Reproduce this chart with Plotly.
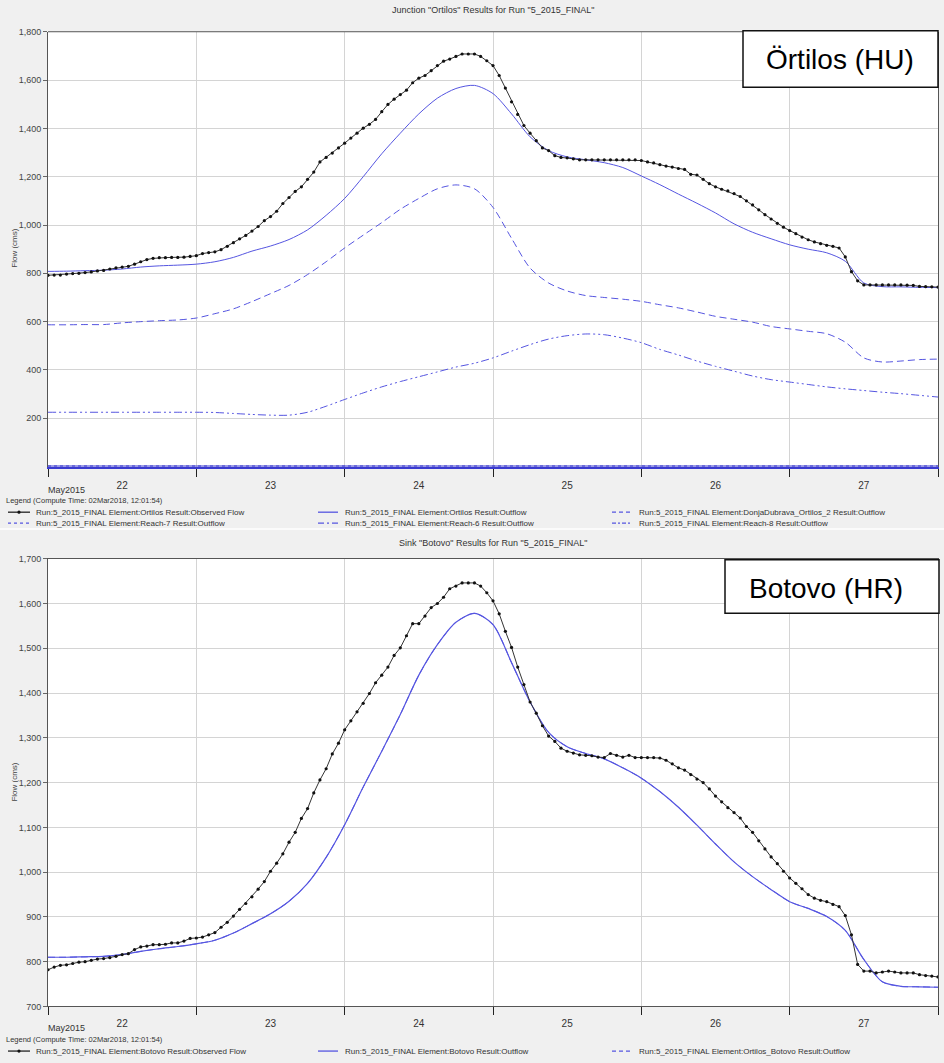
import pandas as pd
import plotly.graph_objects as go

# ---------------- DATA ----------------
# Top panel: Junction "Ortilos" (hourly observed, 3-hourly computed), starting 2015-05-22 00:00
ortilos_observed = [
    792, 793, 793, 797, 799, 800, 803, 806, 810, 812, 818, 823, 826, 829, 838, 848, 857, 862, 865, 865, 866, 866, 867, 870,
    873, 882, 886, 889, 898, 912, 927, 943, 957, 975, 994, 1018, 1035, 1057, 1089, 1114, 1139, 1158, 1189, 1219, 1261, 1280, 1298, 1319,
    1339, 1360, 1380, 1401, 1417, 1437, 1469, 1499, 1521, 1540, 1558, 1589, 1608, 1619, 1639, 1660, 1678, 1687, 1698, 1708, 1708, 1708, 1698, 1680,
    1660, 1619, 1567, 1510, 1458, 1412, 1380, 1349, 1319, 1308, 1287, 1280, 1278, 1274, 1270, 1270, 1270, 1270, 1270, 1270, 1270, 1270, 1270, 1270,
    1267, 1261, 1257, 1250, 1244, 1240, 1234, 1230, 1210, 1207, 1189, 1171, 1158, 1148, 1141, 1130, 1118, 1100, 1083, 1063, 1043, 1025, 1007, 991,
    977, 964, 950, 939, 930, 923, 916, 912, 905, 868, 807, 769, 752, 752, 752, 752, 752, 752, 752, 751, 750, 746, 745, 744,
    743,
]
ortilos_outflow = [
    808, 809, 811, 813, 818, 826, 831, 834, 838, 848, 866, 892, 913, 940, 980, 1040, 1110, 1200, 1295, 1380, 1460, 1525, 1565, 1578,
    1544, 1460, 1365, 1308, 1282, 1270, 1258, 1238, 1203, 1167, 1128, 1090, 1050, 1005, 970, 943, 918, 900, 885, 850, 760, 745, 744, 742, 741,
]
donjadubrava_outflow = [
    587, 587, 588, 588, 595, 600, 604, 607, 615, 633, 653, 683, 716, 750, 795, 848, 905, 958, 1010, 1065, 1110, 1150, 1166, 1150,
    1073, 945, 822, 760, 727, 708, 700, 693, 684, 670, 657, 640, 622, 610, 598, 580, 570, 560, 550, 515, 450, 433, 437, 443, 445,
]
reach6_outflow = [
    225, 225, 225, 225, 225, 225, 225, 225, 225, 224, 220, 216, 213, 213, 225, 250, 278, 305, 330, 352, 372, 392, 412, 428,
    450, 478, 505, 528, 542, 549, 546, 532, 513, 485, 462, 437, 415, 395, 375, 360, 350, 340, 330, 322, 315, 308, 302, 295, 288,
]
reach7_outflow = [0, 0, 0, 0, 0, 0, 0]   # daily, all zero
reach8_outflow = [0, 0, 0, 0, 0, 0, 0]   # daily, all zero

# Bottom panel: Sink "Botovo"
botovo_observed = [
    782, 788, 792, 793, 796, 799, 800, 803, 806, 807, 809, 812, 816, 818, 827, 833, 835, 838, 838, 839, 842, 842, 846, 852,
    853, 855, 860, 865, 877, 888, 902, 917, 930, 945, 962, 979,
    1002, 1020, 1041, 1067, 1089, 1120, 1142, 1177, 1206, 1231, 1264, 1288, 1318, 1338, 1358, 1377, 1399, 1423, 1440, 1458,
    1484, 1501, 1528, 1555, 1555, 1572, 1591, 1600, 1614, 1633, 1639, 1646, 1646, 1646,
    1639, 1624, 1606, 1577, 1538, 1502, 1458, 1419, 1380, 1355, 1327, 1304, 1292, 1277, 1270, 1266, 1262, 1261, 1260, 1257,
    1256, 1265, 1261, 1257, 1261, 1256, 1256, 1256, 1256, 1255, 1250, 1242, 1233, 1228, 1218, 1208, 1200, 1186, 1170, 1157,
    1144, 1133, 1121, 1102, 1089, 1070, 1052, 1034, 1019, 1002, 987, 975, 963, 950, 942, 937, 934, 928, 923, 903,
    860, 794, 779, 779, 775, 777, 779, 777, 775, 775, 775, 771, 769, 768, 766,
]
botovo_outflow = [
    810, 810, 811, 812, 816, 823, 829, 834, 840, 848, 864, 885, 907, 935, 975, 1033, 1106, 1190, 1270, 1352, 1440, 1508, 1558, 1578,
    1553, 1468, 1380, 1312, 1280, 1265, 1253, 1233, 1210, 1180, 1145, 1105, 1063, 1023, 990, 961, 934, 919, 901, 870, 805, 755, 745, 744, 743,
]
ortilos_botovo_outflow = botovo_outflow  # reach outflow = sink inflow (overlaps)

top_ticks = [200, 400, 600, 800, 1000, 1200, 1400, 1600, 1800]
bottom_ticks = [700, 800, 900, 1000, 1100, 1200, 1300, 1400, 1500, 1600, 1700]

top_title = 'Junction "Ortilos" Results for Run "5_2015_FINAL"'
bottom_title = 'Sink "Botovo" Results for Run "5_2015_FINAL"'
legend_header = "Legend (Compute Time: 02Mar2018, 12:01:54)"
top_legend = [
    "Run:5_2015_FINAL Element:Ortilos Result:Observed Flow",
    "Run:5_2015_FINAL Element:Ortilos Result:Outflow",
    "Run:5_2015_FINAL Element:DonjaDubrava_Ortilos_2 Result:Outflow",
    "Run:5_2015_FINAL Element:Reach-7 Result:Outflow",
    "Run:5_2015_FINAL Element:Reach-6 Result:Outflow",
    "Run:5_2015_FINAL Element:Reach-8 Result:Outflow",
]
bottom_legend = [
    "Run:5_2015_FINAL Element:Botovo Result:Observed Flow",
    "Run:5_2015_FINAL Element:Botovo Result:Outflow",
    "Run:5_2015_FINAL Element:Ortilos_Botovo Result:Outflow",
]

# ---------------- FIGURE ----------------
W, H = 944, 1063
START = "2015-05-22 00:00"
END = "2015-05-28 00:00"


def hourly(vals):
    return pd.date_range(START, periods=len(vals), freq="h")


def three_hourly(vals):
    return pd.date_range(START, periods=len(vals), freq="3h")


def daily(vals):
    return pd.date_range(START, periods=len(vals), freq="D")


def px(x):
    return x / W


def py(y):
    return 1 - y / H


BLUE = "#5555e0"
BLUE_D = "#3a3ad0"
FONT = "Liberation Sans"
NARROW = "Liberation Sans Narrow, Liberation Sans, Arial"

fig = go.Figure()

# top panel traces
fig.add_trace(go.Scatter(x=daily(reach7_outflow), y=reach7_outflow, mode="lines",
                         line=dict(color=BLUE_D, width=2, dash="dot"), xaxis="x", yaxis="y"))
fig.add_trace(go.Scatter(x=daily(reach8_outflow), y=reach8_outflow, mode="lines",
                         line=dict(color=BLUE_D, width=2), xaxis="x", yaxis="y"))
fig.add_trace(go.Scatter(x=three_hourly(reach6_outflow), y=reach6_outflow, mode="lines",
                         line=dict(color=BLUE, width=1, dash="8px,3px,2px,3px,2px,3px", shape="spline", smoothing=0.8),
                         xaxis="x", yaxis="y"))
fig.add_trace(go.Scatter(x=three_hourly(donjadubrava_outflow), y=donjadubrava_outflow, mode="lines",
                         line=dict(color=BLUE, width=1, dash="7px,4px", shape="spline", smoothing=0.8),
                         xaxis="x", yaxis="y"))
fig.add_trace(go.Scatter(x=three_hourly(ortilos_outflow), y=ortilos_outflow, mode="lines",
                         line=dict(color=BLUE, width=1, shape="spline", smoothing=0.8), xaxis="x", yaxis="y"))
fig.add_trace(go.Scatter(x=hourly(ortilos_observed), y=ortilos_observed, mode="lines+markers",
                         line=dict(color="#333333", width=1), marker=dict(color="#111111", size=3.2),
                         xaxis="x", yaxis="y"))

# bottom panel traces
fig.add_trace(go.Scatter(x=three_hourly(ortilos_botovo_outflow), y=ortilos_botovo_outflow, mode="lines",
                         line=dict(color=BLUE, width=1, dash="7px,4px", shape="spline", smoothing=0.8),
                         xaxis="x2", yaxis="y2"))
fig.add_trace(go.Scatter(x=three_hourly(botovo_outflow), y=botovo_outflow, mode="lines",
                         line=dict(color=BLUE, width=1.2, shape="spline", smoothing=0.8), xaxis="x2", yaxis="y2"))
fig.add_trace(go.Scatter(x=hourly(botovo_observed), y=botovo_observed, mode="lines+markers",
                         line=dict(color="#333333", width=1), marker=dict(color="#111111", size=3.2),
                         xaxis="x2", yaxis="y2"))

xcommon = dict(type="date", range=[START, END], tick0=START, dtick=86400000, tickformat="%d",
               ticklabelmode="period", ticks="outside", ticklen=8, tickcolor="#222", tickwidth=1,
               showgrid=True, gridcolor="#d4d4d4", gridwidth=1, showline=True,
               tickfont=dict(family=NARROW, size=10, color="#333"),
               zeroline=False, fixedrange=True)
ycommon = dict(showgrid=True, gridcolor="#d4d4d4", gridwidth=1, showline=True, linecolor="#555",
               linewidth=1, mirror=True, ticks="outside", ticklen=4, tickcolor="#666",
               tickformat=",d", tickfont=dict(family=FONT, size=9, color="#444"), zeroline=False,
               fixedrange=True)

fig.update_layout(
    width=W, height=H, autosize=False,
    margin=dict(l=0, r=0, t=0, b=0),
    paper_bgcolor="#f0f0f0", plot_bgcolor="#ffffff",
    showlegend=False,
    xaxis=dict(domain=[px(48), px(938)], anchor="y", linecolor=BLUE_D, linewidth=2, mirror=False, **xcommon),
    yaxis=dict(domain=[py(466), py(27)], anchor="x", range=[0, 1800], tickmode="array",
               tickvals=top_ticks, **ycommon),
    xaxis2=dict(domain=[px(48), px(938)], anchor="y2", linecolor="#555", linewidth=1, mirror=True, **xcommon),
    yaxis2=dict(domain=[py(1011), py(559)], anchor="x2", range=[700, 1700], tickmode="array",
                tickvals=bottom_ticks, **ycommon),
)

ann = []
shapes = []

# top border of the upper plot (x axis line there is the blue zero series)
shapes.append(dict(type="line", xref="paper", yref="paper", x0=px(48), x1=px(938), y0=py(27), y1=py(27),
                   line=dict(color="#555", width=1)))

# panel separator
shapes.append(dict(type="line", xref="paper", yref="paper", x0=0, x1=1, y0=py(529), y1=py(529),
                   line=dict(color="#fbfbfb", width=2)))

# titles
for text, y in [(top_title, 5), (bottom_title, 543)]:
    ann.append(dict(text=text, xref="paper", yref="paper", x=px(493), y=py(y), xanchor="center",
                    yanchor="middle", showarrow=False, font=dict(family=FONT, size=9, color="#333")))

# y-axis titles
for y in [246, 785]:
    ann.append(dict(text="Flow (cms)", xref="paper", yref="paper", x=px(15), y=py(y), xanchor="center",
                    yanchor="middle", textangle=-90, showarrow=False,
                    font=dict(family=FONT, size=8, color="#444")))

# May2015 labels
for y in [490, 1033]:
    ann.append(dict(text="May2015", xref="paper", yref="paper", x=px(46), y=py(y), xanchor="left",
                    yanchor="middle", showarrow=False, font=dict(family=NARROW, size=9, color="#333")))

# Station boxes
boxes = [("Örtilos (HU)", 743, 938, 26, 83), ("Botovo (HR)", 725, 939, 560, 614)]
for text, x0, x1, y0, y1 in boxes:
    shapes.append(dict(type="rect", xref="paper", yref="paper", x0=px(x0), x1=px(x1), y0=py(y1), y1=py(y0),
                       line=dict(color="#111", width=1.5), fillcolor="#ffffff", layer="above"))
ann.append(dict(text="Örtilos (HU)", xref="paper", yref="paper", x=px(840), y=py(55), xanchor="center",
                yanchor="middle", showarrow=False, font=dict(family="Liberation Sans, Arial", size=28, color="#000")))
ann.append(dict(text="Botovo (HR)", xref="paper", yref="paper", x=px(826), y=py(589), xanchor="center",
                yanchor="middle", showarrow=False, font=dict(family="Liberation Sans, Arial", size=28, color="#000")))

# Legends (drawn manually)
LEG_FONT = dict(family=NARROW, size=8, color="#333")


def legend_block(header_y, rows, entries, styles):
    ann.append(dict(text=legend_header, xref="paper", yref="paper", x=px(4), y=py(header_y), xanchor="left",
                    yanchor="middle", showarrow=False, font=dict(family=NARROW, size=7.5, color="#333")))
    cols = [(8, 30, 34), (318, 338, 343), (612, 632, 637)]
    for i, (text, style) in enumerate(zip(entries, styles)):
        r, c = divmod(i, 3)
        y = rows[r]
        sx0, sx1, tx = cols[c]
        color, dash, marker = style
        shapes.append(dict(type="line", xref="paper", yref="paper", x0=px(sx0), x1=px(sx1), y0=py(y), y1=py(y),
                           line=dict(color=color, width=1.3, dash=dash)))
        if marker:
            mx = (sx0 + sx1) / 2
            shapes.append(dict(type="circle", xref="paper", yref="paper", x0=px(mx - 1.6), x1=px(mx + 1.6),
                               y0=py(y + 1.6), y1=py(y - 1.6), fillcolor="#111", line=dict(color="#111", width=0)))
        ann.append(dict(text=text, xref="paper", yref="paper", x=px(tx), y=py(y), xanchor="left",
                        yanchor="middle", showarrow=False, font=LEG_FONT))


top_styles = [("#222", "solid", True), (BLUE, "solid", False), (BLUE, "4px,3px", False),
              (BLUE, "dot", False), (BLUE, "6px,3px,2px,3px", False), (BLUE, "4px,2px,2px,2px", False)]
bottom_styles = [("#222", "solid", True), (BLUE, "solid", False), (BLUE, "4px,3px", False)]

legend_block(500, [512, 523], top_legend, top_styles)
legend_block(1044, [1056], bottom_legend, bottom_styles)

fig.update_layout(annotations=ann, shapes=shapes)

fig.write_html("out.html", config={"displayModeBar": False},
               post_script="document.body.style.margin='0';document.body.style.overflow='hidden';")
